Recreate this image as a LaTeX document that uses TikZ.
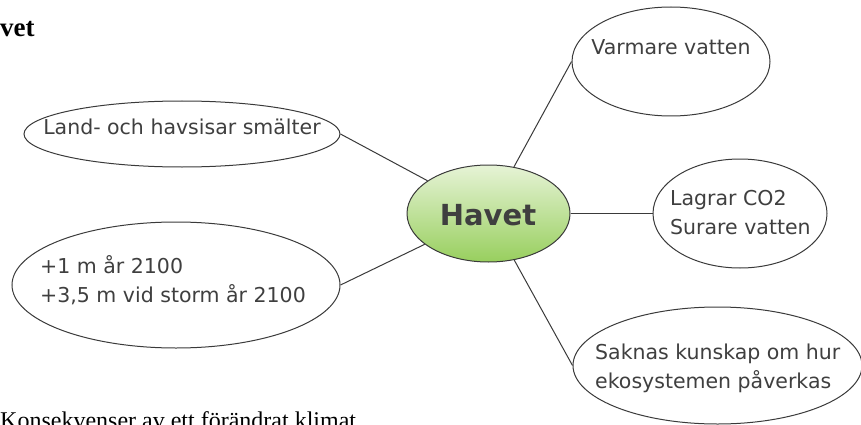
\documentclass[tikz,border=0pt]{standalone}
\usepackage{fontspec}
\setmainfont{DejaVu Sans}
\newfontfamily\serifttl{Liberation Serif}
\usetikzlibrary{shapes.geometric}
\definecolor{edge}{HTML}{3A3A3A}
\definecolor{txt}{HTML}{3F3F3F}
\definecolor{gtop}{HTML}{E6F3D6}
\definecolor{gbot}{HTML}{98CF5E}
\begin{document}
\begin{tikzpicture}[x=1pt,y=-1pt,
  bubble/.style={ellipse, draw=edge, line width=1pt, inner sep=0pt},
  lbl/.style={text=txt, font=\fontsize{20.5}{28.5}\selectfont, inner sep=0pt, align=left},
  link/.style={draw=edge, line width=1pt}]
\useasboundingbox (0,0) rectangle (861,425);
% title and caption
\node[anchor=base west, inner sep=0pt, font=\serifttl\bfseries\fontsize{27}{30}\selectfont] (ttl) at (0,37) {vet};
\node[anchor=base west, inner sep=0pt, font=\serifttl\fontsize{24}{28}\selectfont] (cap) at (0,428) {Konsekvenser av ett förändrat klimat};
% bubbles
\node[bubble, minimum width=163pt, minimum height=97pt, top color=gtop, bottom color=gbot] (havet) at (488.5,213.5) {};
\node[bubble, minimum width=198pt, minimum height=109pt] (varm) at (671,61.5) {};
\node[bubble, minimum width=316pt, minimum height=66pt] (land) at (182,134) {};
\node[bubble, minimum width=328pt, minimum height=126pt] (plus) at (176,285) {};
\node[bubble, minimum width=174pt, minimum height=109pt] (lagr) at (740,213.5) {};
\node[bubble, minimum width=289pt, minimum height=117pt] (sakn) at (717.5,365.5) {};
% texts
\node[anchor=base, inner sep=0pt, text=txt, font=\bfseries\fontsize{29}{32}\selectfont] (thav) at (488,225) {Havet};
\node[lbl, anchor=base] (tvarm) at (671,55) {Varmare vatten};
\node[lbl, anchor=base] (tland) at (182,135) {Land- och havsisar smälter};
\node[lbl, anchor=base west] (tplus) at (40,302) {+1 m år 2100\\+3,5 m vid storm år 2100};
\node[lbl, anchor=base west] (tlagr) at (670,234) {Lagrar CO2\\Surare vatten};
\node[lbl, anchor=base west] (tsakn) at (595,388) {Saknas kunskap om hur\\ekosystemen påverkas};
% connectors
\draw[link] (havet) -- (varm.west);
\draw[link] (havet) -- (lagr.west);
\draw[link] (havet) -- (sakn.west);
\draw[link] (havet) -- (land.east);
\draw[link] (havet) -- (plus.east);
\end{tikzpicture}
\end{document}
